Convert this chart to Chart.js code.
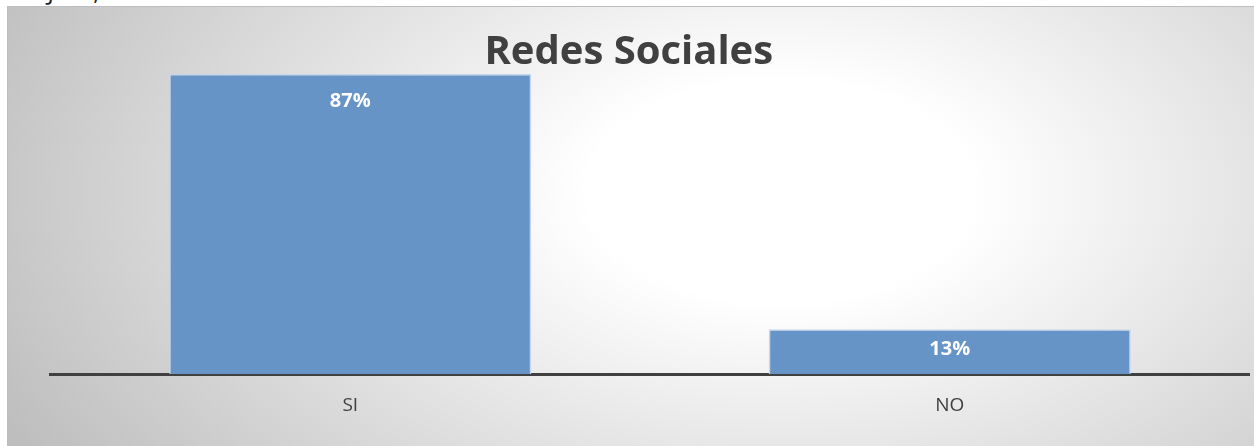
<!DOCTYPE html>
<html>
<head>
<meta charset="utf-8">
<script src="https://cdn.jsdelivr.net/npm/chart.js@4/dist/chart.umd.min.js"></script>
<style>
  html, body { margin: 0; padding: 0; width: 1254px; height: 446px; overflow: hidden; background: #fff; }
  #caption { position: absolute; left: 0; top: -20px; font: 24px/22px "Open Sans", sans-serif; color: #222; white-space: nowrap; }
  #box {
    position: absolute; left: 7px; top: 6px; width: 1247px; height: 440px;
    border-top: 1px solid #bdbdbd; border-left: 1px solid #bdbdbd; box-sizing: border-box;
    background: radial-gradient(ellipse 70% 115% at 62% 42%, #ffffff 22%, #bebebe 100%);
  }
</style>
</head>
<body>
<div id="caption">San José, Costa Rica</div>
<div id="box"><canvas id="chart" width="1246" height="439"></canvas></div>
<script>
const categories = ["SI", "NO"];
const percentages = [87, 13];
const barColor = "#6794c7";

// labels inside the bar end, centred on short bars the way Excel does
const barLabels = {
    id: "barLabels",
    afterDatasetsDraw(chart) {
        const ctx = chart.ctx;
        const bars = chart.getDatasetMeta(0).data;
        ctx.save();
        ctx.fillStyle = "#ffffff";
        ctx.font = "bold 20px 'Open Sans'";
        ctx.textAlign = "center";
        ctx.textBaseline = "middle";
        bars.forEach((bar, i) => {
            const y = Math.min(bar.y + 27, (bar.y + bar.base) / 2 - 2);
            ctx.fillText(percentages[i] + "%", bar.x, y);
        });
        ctx.restore();
    }
};

new Chart("chart", {
    type: "bar",
    data: {
        labels: categories,
        datasets: [{
            data: percentages,
            backgroundColor: barColor,
            borderColor: "#c6d6ea",
            borderWidth: 1.5,
            categoryPercentage: 1,
            barPercentage: 0.604
        }]
    },
    options: {
        responsive: false,
        animation: false,
        layout: { padding: { right: 4.5, bottom: 9 } },
        plugins: {
            legend: { display: false },
            tooltip: { enabled: false },
            title: {
                display: true,
                text: "Redes Sociales",
                color: "#404040",
                font: { family: "'Open Sans'", size: 40, weight: "bold" },
                padding: { top: 22, bottom: -3 }
            }
        },
        scales: {
            x: {
                grid: { display: false, drawTicks: false },
                border: { display: true, color: "#404040", width: 3 },
                ticks: { color: "#404040", font: { family: "'Open Sans'", size: 19 }, padding: 20 }
            },
            y: {
                min: 0, max: 87,
                grid: { display: false, drawTicks: false },
                border: { display: false },
                ticks: { display: false },
                afterFit(scale) { scale.width = 42.5; }
            }
        }
    },
    plugins: [barLabels]
});
</script>
</body>
</html>
